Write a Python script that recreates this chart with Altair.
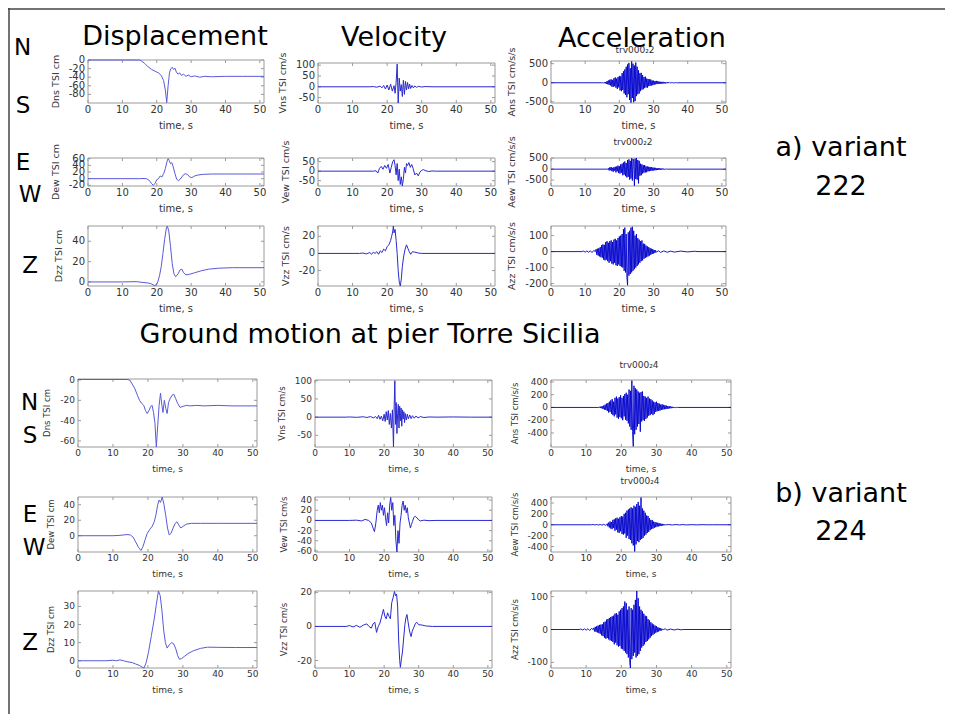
import altair as alt
import pandas as pd

W, H = 937, 706
FONT = "DejaVu Sans"

# ---------------- text content ----------------
COL_TITLES = ["Displacement", "Velocity", "Acceleration"]
COMP_LETTERS = ["N", "S", "E", "W", "Z", "N", "S", "E", "W", "Z"]
SECTION_TITLE = "Ground motion at pier Torre Sicilia"
VARIANT_LABELS = ["a) variant", "222", "b) variant", "224"]
ACC_TITLES = ["trv000\u20822", "trv000\u20822", "trv000\u20824", "trv000\u20824"]
Y_TITLES = [["Dns TSI cm", "Vns TSI cm/s", "Ans TSI cm/s/s"],
            ["Dew TSI cm", "Vew TSI cm/s", "Aew TSI cm/s/s"],
            ["Dzz TSI cm", "Vzz TSI cm/s", "Azz TSI cm/s/s"]]
X_TITLE = "time, s"
TIME_TICKS = [0, 10, 20, 30, 40, 50]
T_END = 51.2

# ---------------- variant 222 ----------------
DNS_222 = [(0, 0), (15, 0), (15.5, -2), (16.5, -8), (17.5, -16), (18.5, -22), (19.5, -26), (20.5, -30),
           (21.3, -36), (22, -48), (22.5, -70), (22.9, -99), (23.3, -60), (23.7, -30), (24.1, -20),
           (24.5, -17), (24.9, -22), (25.3, -19), (25.7, -28), (26.2, -33), (26.7, -30), (27.2, -36),
           (27.8, -33), (28.5, -38), (29.2, -35), (30, -39), (31, -37), (32.5, -40), (34, -38),
           (36, -39), (40, -38), (45, -38), (51.2, -38)]
VNS_222 = [(0, 0), (15, 0), (16, 1), (17, -2), (18, 3), (18.5, -5), (19, 6), (19.5, -10), (20, 8),
           (20.5, -15), (21, 12), (21.5, -20), (22, 5), (22.3, -30), (22.6, 20), (22.9, 105), (23.2, -75),
           (23.5, 40), (23.8, -20), (24.1, 10), (24.4, -45), (24.7, 30), (25, -35), (25.3, 25), (25.6, -15),
           (25.9, 20), (26.2, -10), (26.5, 12), (26.8, -8), (27.2, 6), (27.6, -5), (28, 4), (28.5, -3),
           (29, 2), (30, -1), (31, 1), (33, 0), (51.2, 0)]
ANS_222_PRE = [(0, 0), (14.8, 0)]
ANS_222_T0, ANS_222_DT = 15.0, 0.2
ANS_222 = [0, 5, -8, 12, -15, 20, -30, 45, -40, 60, -55, 80, -70, 90, -100, 75, -110, 120, -90, 140,
           -130, 110, -160, 150, -120, 180, -200, 170, -220, 250, -190, 300, -280, 350, -320, 420, -380,
           480, -300, 520, -450, 380, -520, 560, -400, 500, -510, 450, -480, 530, -350, 420, -300, 330,
           -280, 250, -220, 260, -180, 200, -170, 150, -140, 160, -120, 110, -130, 100, -90, 95, -80, 85,
           -70, 60, -65, 55, -50, 45, -40, 50, -35, 40, -30, 35, -28, 25, -30, 22, -20, 25, -18, 15, -20,
           15, -12, 14, -10, 12, -8, 10, -7, 8, -6, 5, -5, 4, -3, 3, -2, 1, 0]
ANS_222_POST = [(51.2, 0)]

DEW_222 = [(0, 0), (15, 0), (16, 0.5), (17, 0), (17.8, -5), (18.5, -15), (19, -20), (19.5, -14), (20, -3),
           (20.5, 0), (21, 8), (21.5, 5), (22, 15), (22.5, 30), (23, 52), (23.3, 60), (23.6, 55), (24, 45),
           (24.4, 48), (24.8, 35), (25.3, 15), (25.8, -2), (26.3, -6), (26.8, -2), (27.3, 5), (27.8, 12),
           (28.4, 15), (29, 12), (29.6, 5), (30.2, 3), (31, 8), (32, 11), (33.5, 13), (36, 14), (40, 14),
           (45, 14), (51.2, 14)]
VEW_222 = [(0, 0), (16, 0), (16.8, 2), (17.3, -10), (17.8, 15), (18.3, 25), (18.8, 10), (19.3, 30),
           (19.8, 15), (20.3, 35), (20.8, -10), (21.2, 20), (21.6, 50), (22, 60), (22.3, 30), (22.6, -20),
           (22.9, 40), (23.2, -50), (23.5, 10), (23.8, -70), (24.1, -30), (24.4, -78), (24.7, -40),
           (25.0, 20), (25.3, -10), (25.6, 40), (25.9, 30), (26.3, 45), (26.7, 20), (27.1, 35), (27.5, 15),
           (28, -20), (28.5, -10), (29, -25), (29.5, -5), (30, 5), (30.5, 8), (31, 3), (32, -2), (33, 1),
           (34, 0), (51.2, 0)]
AEW_222_PRE = [(0, 0), (16.4, 0)]
AEW_222_T0, AEW_222_DT = 16.6, 0.2
AEW_222 = [0, 40, -60, 80, -50, 100, -90, 60, -120, 90, -70, 110, -150, 120, -100, 160, -180, 140, -200,
           220, -160, 250, -280, 300, -250, 350, -320, 280, -380, 420, -350, 450, -480, 380, -430, 500,
           -520, 470, 350, -760, 480, -450, 510, -480, 420, -650, 380, -300, 250, -280, 220, -200, 180,
           -160, 190, -150, 130, -140, 120, -100, 110, -90, 100, -80, 90, -70, 75, -60, 70, -55, 60, -45,
           50, -40, 45, -35, 40, -30, 35, -25, 30, -20, 25, -15, 15, -10, 5, 0]
AEW_222_POST = [(51.2, 0)]

DZZ_222 = [(0, 0), (10, 0), (14, 0.3), (16, -0.5), (17.5, -1), (18.5, -2), (19.3, -3.5), (19.8, -3),
           (20.3, 0), (20.8, 6), (21.3, 15), (21.8, 28), (22.3, 42), (22.8, 53), (23.1, 55), (23.5, 50),
           (24, 35), (24.5, 18), (25, 8), (25.5, 5), (26.2, 8), (26.8, 12), (27.3, 12.5), (27.8, 9),
           (28.5, 7), (29.5, 7.5), (31, 9), (33, 11), (35, 12.5), (38, 13.5), (42, 14), (51.2, 14)]
VZZ_222 = [(0, 0), (12, 0), (13, 0.5), (14, -0.5), (15, 1), (15.5, -1), (16, 1.5), (16.5, 0), (17, 2),
           (17.5, -1), (18, 3), (18.5, 1), (19, 5), (19.5, 3), (20, 8), (20.5, 10), (21, 15), (21.3, 20),
           (21.6, 25), (21.8, 32), (22.0, 24), (22.3, 28), (22.6, 15), (22.9, 0), (23.2, -20), (23.5, -33),
           (23.8, -38), (24.1, -30), (24.4, -15), (24.8, -3), (25.2, 5), (25.6, 10), (26, 6), (26.4, 2),
           (26.8, -1), (27.3, 2), (28, 1.5), (29, 0.5), (30, 0), (51.2, 0)]
AZZ_222_PRE = [(0, 0), (9, 0), (9.5, 3), (10, -3), (10.5, 4), (11, -4), (11.5, 5), (12, -6), (12.5, 7)]
AZZ_222_T0, AZZ_222_DT = 13.0, 0.2
AZZ_222 = [0, 15, -20, 18, -25, 22, -30, 28, -35, 40, -38, 45, -50, 42, -55, 60, -50, 65, -60, 55, -70,
           65, -60, 70, -75, 60, -80, 75, -70, 80, -85, 70, -90, 85, -80, 95, -90, 100, -95, 110, -100,
           140, -120, 150, -130, 110, -160, -210, 120, -150, 130, -140, 150, -130, 155, -120, 130, -110,
           100, -100, 110, -90, 85, -80, 75, -70, 65, -60, 70, -55, 50, -45, 48, -40, 38, -35, 32, -30,
           28, -25, 22, -20, 18, -15, 15, -12, 10, -8, 8, -5, 0]
AZZ_222_POST = [(31.5, 5), (32, -5), (33, 4), (34, -4), (35, 3), (36, -3), (38, 3), (40, -2), (42, 2),
                (43, 0), (51.2, 0)]

# ---------------- variant 224 ----------------
DNS_224 = [(0, 0.5), (14, 0.5), (14.8, 0), (15.5, -4), (16.2, -8), (17, -15), (17.6, -20), (18.2, -23),
           (18.8, -25), (19.3, -30), (19.8, -33), (20.3, -30), (20.8, -26), (21.2, -25), (21.6, -32),
           (22, -42), (22.4, -66), (22.8, -45), (23.2, -25), (23.6, -13), (24, -25), (24.3, -32),
           (24.7, -20), (25.1, -28), (25.5, -33), (25.9, -22), (26.4, -18), (26.9, -15), (27.4, -14),
           (27.9, -18), (28.5, -23), (29.2, -27), (30, -26), (31, -25), (32, -25.5), (34, -25),
           (36, -25.5), (40, -25), (44, -25.5), (51.2, -25.5)]
VNS_224 = [(0, 0), (9, 0), (10, 0.5), (12, -0.5), (14, 1), (15, -1), (16, 1.5), (17, -2), (17.5, 2),
           (18, -4), (18.4, 5), (18.8, -6), (19.2, 3), (19.6, -10), (20, 8), (20.3, -12), (20.6, 15),
           (20.9, -8), (21.2, 18), (21.5, -20), (21.8, 10), (22.1, -30), (22.4, 20), (22.7, -82), (22.9, 30),
           (23.1, 100), (23.3, -20), (23.5, 40), (23.7, -45), (23.9, 10), (24.1, 35), (24.3, -30),
           (24.5, 30), (24.7, -10), (24.9, 25), (25.1, -25), (25.3, 20), (25.5, -5), (25.7, 15),
           (25.9, -15), (26.1, 10), (26.4, -8), (26.7, 8), (27, -5), (27.4, 6), (27.8, -4), (28.2, 4),
           (28.7, -3), (29.2, 3), (29.8, -2), (30.5, 1.5), (31.5, -1), (33, 0.5), (35, 0), (40, 0.5),
           (45, 0), (51.2, 0)]
ANS_224_PRE = [(0, 0), (13.4, 0)]
ANS_224_T0, ANS_224_DT = 13.6, 0.2
ANS_224 = [0, 8, -10, 15, -12, 20, -25, 30, -35, 45, -40, 60, -55, 70, -80, 90, -70, 110, -100, 130,
           -120, 90, -140, 150, -110, 170, -160, 140, -180, 160, -150, 190, -170, 150, -200, 180, -140,
           210, -190, 230, -210, 200, -250, 280, -300, 260, -350, 420, -380, -610, 340, -420, 300, -350,
           280, -300, 250, -260, 230, -380, 240, -220, 250, -200, 180, -210, 170, -180, 150, -160, 170,
           -130, 140, -120, 130, -100, 110, -120, 90, -100, 80, -70, 90, -60, 70, -55, 60, -50, 45, -40,
           50, -35, 40, -30, 35, -25, 30, -25, 20, -18, 22, -15, 15, -12, 12, -10, 8, -6, 6, -5, 4, -3, 0]
ANS_224_POST = [(51.2, 0)]

DEW_224 = [(0, 0), (10, 0), (12, 0.5), (14, 1.5), (15, 1), (15.8, -2), (16.5, -8), (17.3, -15), (18, -19),
           (18.6, -14), (19.2, -5), (19.8, 3), (20.5, 8), (21.2, 12), (21.8, 18), (22.3, 27), (22.8, 40),
           (23.2, 46), (23.6, 43), (24.1, 50), (24.6, 40), (25.1, 26), (25.6, 10), (26.1, 1), (26.6, 3),
           (27.2, 10), (27.8, 16), (28.3, 18), (28.8, 14), (29.4, 10), (30, 12), (31, 15), (32.5, 16),
           (35, 16), (40, 16), (51.2, 16)]
VEW_224 = [(0, 0), (10, 0), (12, 0.5), (13.5, -1), (14.5, 2), (15.5, 0), (16.3, -5), (16.8, -15),
           (17.2, -22), (17.6, -5), (18, 20), (18.3, 30), (18.6, 15), (18.9, 35), (19.2, 20), (19.5, 30),
           (19.8, 10), (20.1, 25), (20.4, 5), (20.7, -10), (21, 15), (21.3, -5), (21.6, 30), (21.9, 45),
           (22.2, 20), (22.5, 35), (22.8, -10), (23.1, 10), (23.4, -40), (23.7, -62), (24, -20),
           (24.3, -45), (24.6, -5), (24.9, 10), (25.2, 30), (25.5, 38), (25.8, 20), (26.1, 30), (26.4, 15),
           (26.7, 25), (27, 5), (27.3, -5), (27.6, -15), (27.9, -8), (28.2, -2), (28.6, 6), (29, 8),
           (29.5, 5), (30, 1), (30.5, -1), (31.5, 0.5), (33, -0.5), (35, 0), (51.2, 0)]
AEW_224_PRE = [(0, 0), (11.5, 0), (12, 4), (12.5, -4), (13, 5), (13.5, -5), (14, 6), (14.5, -8), (15, 8),
               (15.5, -10)]
AEW_224_T0, AEW_224_DT = 15.8, 0.2
AEW_224 = [0, 20, -30, 40, -50, 60, -70, 50, -80, 90, -60, 100, -110, 120, -90, 130, -140, 110, -150,
           140, -120, 160, -170, 150, -180, 200, -160, 220, -240, 260, -200, 280, -260, 300, -280, 320,
           -340, 300, -380, 350, -490, 330, -360, 380, -300, 420, -320, 350, -280, 500, -260, 300, -240,
           260, -200, 220, -180, 170, -150, 160, -130, 120, -100, 90, -80, 85, -70, 60, -55, 50, -45, 40,
           -35, 38, -30, 28, -25, 22, -20, 18, -15, 12, -10, 8, -6, 0]
AEW_224_POST = [(33.5, 5), (34.5, -4), (35.5, 4), (36.5, -3), (37.5, 3), (38.5, -3), (40, 2), (41.5, -2),
                (43, 2), (44.5, -1), (46, 0), (51.2, 0)]

DZZ_224 = [(0, 0), (8, 0), (10, 0.3), (11, 0), (12, 0.5), (13, 0), (14, -0.5), (15.5, -1), (16.5, -1.8),
           (17.5, -2.5), (18.3, -3.5), (18.9, -4), (19.5, -1), (20.2, 5), (21, 14), (21.8, 23), (22.4, 31),
           (23, 38.5), (23.5, 36), (24, 28), (24.5, 17), (25, 10), (25.5, 7), (26.2, 9), (26.8, 10),
           (27.3, 9.5), (27.9, 7), (28.5, 3), (29, 0.8), (29.6, 1.2), (30.5, 2.5), (31.5, 4), (33, 5.5),
           (35, 6.8), (37, 7.5), (40, 7.4), (45, 7.3), (51.2, 7.3)]
VZZ_224 = [(0, 0), (9, 0), (10, 0.5), (11, -0.3), (12, 0.6), (13, -0.5), (14, 0.8), (15, 1.5), (15.6, 0),
           (16.3, -1), (16.8, 1.5), (17.3, 2.5), (17.8, -3.5), (18.3, 0), (18.8, 2), (19.3, 6), (19.8, 10),
           (20.2, 6), (20.6, 4.5), (21, 8), (21.4, 6), (21.8, 4.5), (22.2, 14), (22.6, 17), (23.0, 20.5),
           (23.3, 18), (23.6, 19), (23.9, 12), (24.2, -8), (24.5, -20), (24.7, -24), (25, -19), (25.3, -15),
           (25.6, -8), (26, 1), (26.3, 5), (26.6, 7), (26.9, 3), (27.2, -1), (27.5, -4), (27.8, -6),
           (28.1, -3), (28.5, -1), (29, 1.5), (29.4, 2.5), (30, 1), (31, 0.8), (32, 0.3), (34, 0), (51.2, 0)]
AZZ_224_PRE = [(0, 0), (8, 0), (8.5, 1.5), (9, -1.5), (9.5, 2), (10, -2), (10.5, 2.5), (11, -3), (11.5, 3)]
AZZ_224_T0, AZZ_224_DT = 12.0, 0.2
AZZ_224 = [0, 5, -6, 8, -7, 10, -9, 12, -11, 14, -13, 15, -18, 16, -20, 22, -25, 24, -28, 30, -26, 32,
           -30, 35, -33, 38, -35, 40, -38, 42, -45, 48, -40, 50, -48, 45, -52, 55, -50, 60, -58, 65, -60,
           70, -65, 85, -70, 80, -75, 60, -85, 70, -100, -117, 65, -90, 60, -80, 75, -70, 90, -85, 117,
           -80, 95, -75, 70, -65, 60, -55, 55, -50, 48, -45, 42, -38, 40, -35, 32, -30, 28, -25, 22, -20,
           18, -16, 15, -13, 12, -10, 10, -8, 7, -6, 5, -4, 4, -3, 2, -1, 0]
AZZ_224_POST = [(32.5, 2), (33, -2), (34, 1.5), (35, -1.5), (36, 1), (37, -1), (37.6, 0), (51.2, 0)]

# y-axis domains and tick values, one per panel (row-major)
Y_DOMAINS = [[(-100, 0), (-75, 110), (-530, 570)],
             [(-22, 62), (-78, 69), (-770, 510)],
             [(-4, 55), (-38, 32), (-215, 160)],
             [(-66, 1), (-82, 102), (-620, 430)],
             [(-21, 50), (-62, 46), (-500, 510)],
             [(-4, 38.5), (-24.4, 20.8), (-117, 117)]]
Y_TICKS = [[[0, -20, -40, -60, -80], [100, 50, 0, -50], [500, 0, -500]],
           [[60, 40, 20, 0, -20], [50, 0, -50], [500, 0, -500]],
           [[40, 20, 0], [20, 0, -20], [100, 0, -100, -200]],
           [[0, -20, -40, -60], [100, 50, 0, -50], [400, 200, 0, -200, -400]],
           [[40, 20, 0], [40, 20, 0, -20, -40, -60], [400, 200, 0, -200, -400]],
           [[30, 20, 10, 0], [20, 0, -20], [100, 0, -100]]]


def trace(pairs, t0=None, dt=None, vals=(), post=()):
    t = [p[0] for p in pairs]
    v = [p[1] for p in pairs]
    for i, val in enumerate(vals):
        t.append(round(t0 + i * dt, 3))
        v.append(val)
    t += [p[0] for p in post]
    v += [p[1] for p in post]
    return pd.DataFrame({"t": t, "v": v})


TRACES = [
    [trace(DNS_222), trace(VNS_222), trace(ANS_222_PRE, ANS_222_T0, ANS_222_DT, ANS_222, ANS_222_POST)],
    [trace(DEW_222), trace(VEW_222), trace(AEW_222_PRE, AEW_222_T0, AEW_222_DT, AEW_222, AEW_222_POST)],
    [trace(DZZ_222), trace(VZZ_222), trace(AZZ_222_PRE, AZZ_222_T0, AZZ_222_DT, AZZ_222, AZZ_222_POST)],
    [trace(DNS_224), trace(VNS_224), trace(ANS_224_PRE, ANS_224_T0, ANS_224_DT, ANS_224, ANS_224_POST)],
    [trace(DEW_224), trace(VEW_224), trace(AEW_224_PRE, AEW_224_T0, AEW_224_DT, AEW_224, AEW_224_POST)],
    [trace(DZZ_224), trace(VZZ_224), trace(AZZ_224_PRE, AZZ_224_T0, AZZ_224_DT, AZZ_224, AZZ_224_POST)],
]

# ---------------- layout (pixels inside the chart) ----------------
X_TOP = [(80, 256), (310, 487), (543, 718)]
X_BOT = [(70, 249), (307, 484), (543, 723)]
ROW_Y = [[(52, 95), (55, 95), (53, 95)],
         [(150, 178)] * 3,
         [(218, 278)] * 3,
         [(371, 439), (372, 439), (372, 439)],
         [(489, 544)] * 3,
         [(583, 660)] * 3]
LINE_COLORS = ["#5a5ad8", "#2a2ad0", "#0000cc"]
LINE_WIDTHS = [1.0, 1.0, 0.9]
TEXT_COLOR = "#333333"
BOX_COLOR = "#9a9a9a"
TICK_LEN = 3


def fmt(v):
    return str(int(v)) if float(v).is_integer() else str(v)


def text_width(s, fs):
    w = {"-": 0.361, ".": 0.318}
    return sum(w.get(ch, 0.636) for ch in s) * fs


def panel(df, box, ydom, yticks, ytitle, color, width, fs):
    x0, x1, yt, yb = box
    xs = alt.Scale(domain=[0, T_END], range=[x0, x1], nice=False, zero=False)
    ys = alt.Scale(domain=list(ydom), range=[yb, yt], nice=False, zero=False)
    X = lambda f: alt.X(f, scale=xs, axis=None)
    Y = lambda f: alt.Y(f, scale=ys, axis=None)

    frame_df = pd.DataFrame({"x": [0.0], "x2": [T_END], "y": [ydom[0]], "y2": [ydom[1]]})
    frame = alt.Chart(frame_df).mark_rect(fillOpacity=0, stroke=BOX_COLOR, strokeWidth=1).encode(
        x=X("x:Q"), x2="x2:Q", y=Y("y:Q"), y2="y2:Q")

    line = alt.Chart(df).mark_line(color=color, strokeWidth=width).encode(x=X("t:Q"), y=Y("v:Q"))

    ydf = pd.DataFrame({"val": yticks, "lab": [fmt(v) for v in yticks]})
    xdf = pd.DataFrame({"val": TIME_TICKS, "lab": [fmt(v) for v in TIME_TICKS]})

    ylabels = alt.Chart(ydf).mark_text(font=FONT, fontSize=fs, align="right", baseline="middle",
                                       color=TEXT_COLOR).encode(
        x=alt.value(x0 - 3), y=Y("val:Q"), text="lab:N")
    xlabels = alt.Chart(xdf).mark_text(font=FONT, fontSize=fs, align="center", baseline="top",
                                       color=TEXT_COLOR).encode(
        x=X("val:Q"), y=alt.value(yb + 2), text="lab:N")

    tick_style = dict(color=BOX_COLOR, strokeWidth=1)
    yt_l = alt.Chart(ydf).mark_rule(**tick_style).encode(
        y=Y("val:Q"), x=alt.value(x0), x2=alt.value(x0 + TICK_LEN))
    yt_r = alt.Chart(ydf).mark_rule(**tick_style).encode(
        y=Y("val:Q"), x=alt.value(x1 - TICK_LEN), x2=alt.value(x1))
    xt_b = alt.Chart(xdf).mark_rule(**tick_style).encode(
        x=X("val:Q"), y=alt.value(yb - TICK_LEN), y2=alt.value(yb))
    xt_t = alt.Chart(xdf).mark_rule(**tick_style).encode(
        x=X("val:Q"), y=alt.value(yt), y2=alt.value(yt + TICK_LEN))

    wmax = max(text_width(fmt(v), fs) for v in yticks)
    ytitle_x = x0 - 3 - wmax - 13
    ytitle_mark = alt.Chart(pd.DataFrame({"t": [ytitle]})).mark_text(
        font=FONT, fontSize=fs - 0.5, angle=270, align="center", baseline="middle", color=TEXT_COLOR
    ).encode(x=alt.value(ytitle_x), y=alt.value((yt + yb) / 2), text="t:N")
    xtitle_mark = alt.Chart(pd.DataFrame({"t": [X_TITLE]})).mark_text(
        font=FONT, fontSize=fs, align="center", baseline="middle", color=TEXT_COLOR
    ).encode(x=alt.value((x0 + x1) / 2), y=alt.value(yb + 2 + fs + 7 + fs / 2 - 1), text="t:N")

    return alt.layer(frame, yt_l, yt_r, xt_b, xt_t, line, ylabels, xlabels, ytitle_mark, xtitle_mark)


layers = []
for r in range(6):
    xcols = X_TOP if r < 3 else X_BOT
    fs = 10 if r < 3 else 9
    for c in range(3):
        x0, x1 = xcols[c]
        yt, yb = ROW_Y[r][c]
        layers.append(panel(TRACES[r][c], (x0, x1, yt, yb), Y_DOMAINS[r][c], Y_TICKS[r][c],
                            Y_TITLES[r % 3][c], LINE_COLORS[c], LINE_WIDTHS[c], fs))


def label(txt, x, y, size, color="#000000"):
    return alt.Chart(pd.DataFrame({"t": [txt]})).mark_text(
        font=FONT, fontSize=size, align="center", baseline="alphabetic", color=color
    ).encode(x=alt.value(x), y=alt.value(y), text="t:N")


HEAD_POS = [(167, 37), (386, 38), (634, 39)]
for txt, (x, y) in zip(COL_TITLES, HEAD_POS):
    layers.append(label(txt, x, y, 27))

LETTER_POS = [(14.5, 47), (15, 105), (15, 162), (22, 194), (22, 265),
              (21.5, 402), (22, 435), (22, 514), (26, 547), (22, 642)]
for txt, (x, y) in zip(COMP_LETTERS, LETTER_POS):
    layers.append(label(txt, x, y, 23))

layers.append(label(SECTION_TITLE, 362, 335, 27))

VAR_POS = [(833, 148), (833, 187), (833, 494), (833, 532)]
for txt, (x, y) in zip(VARIANT_LABELS, VAR_POS):
    layers.append(label(txt, x, y, 27))

ACC_POS = [(627, 45), (625, 137), (631, 360), (632, 476)]
for txt, (x, y) in zip(ACC_TITLES, ACC_POS):
    layers.append(label(txt, x, y, 9, TEXT_COLOR))

# outer frame (left and top edge)
layers.append(alt.Chart(pd.DataFrame({"k": [0]})).mark_rule(color="#444444", strokeWidth=1.5).encode(
    x=alt.value(1), y=alt.value(0), y2=alt.value(H)))
layers.append(alt.Chart(pd.DataFrame({"k": [0]})).mark_rule(color="#444444", strokeWidth=1.5).encode(
    x=alt.value(0), x2=alt.value(W), y=alt.value(1)))

chart = (
    alt.layer(*layers)
    .resolve_scale(x="independent", y="independent")
    .properties(width=W, height=H, padding=0, autosize=alt.AutoSizeParams(type="none"))
    .configure_view(stroke=None)
)

chart.save("out.html", embed_options={"renderer": "svg", "actions": False})
